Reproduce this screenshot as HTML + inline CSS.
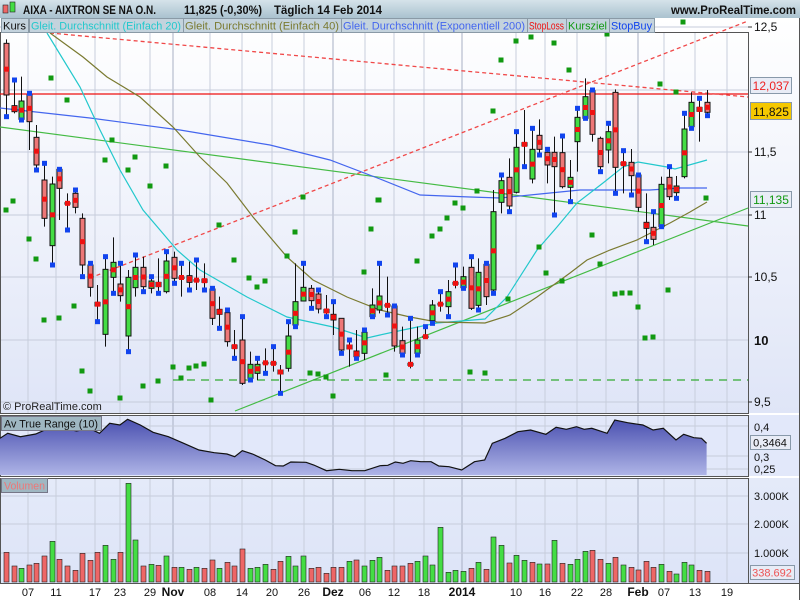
<!DOCTYPE html>
<html><head><meta charset="utf-8">
<style>
html,body{margin:0;padding:0;background:#fff;}
svg{display:block;font-family:"Liberation Sans",sans-serif;}
</style></head>
<body>
<svg id="c" width="800" height="600" xmlns="http://www.w3.org/2000/svg">
<defs>
<linearGradient id="bg" x1="0" y1="0" x2="0" y2="1"><stop offset="0" stop-color="#ffffff"/><stop offset="1" stop-color="#dfe5f7"/></linearGradient>
<linearGradient id="hd" x1="0" y1="0" x2="0" y2="1"><stop offset="0" stop-color="#d5e3ea"/><stop offset="1" stop-color="#aac2cf"/></linearGradient>
<linearGradient id="atr" x1="0" y1="0" x2="0" y2="1"><stop offset="0" stop-color="#4a50b0"/><stop offset="1" stop-color="#aeb4e6"/></linearGradient>
<linearGradient id="vb" x1="0" y1="0" x2="0" y2="1"><stop offset="0" stop-color="#e4eaf9"/><stop offset="1" stop-color="#dde4f8"/></linearGradient>
</defs>
<rect width="800" height="600" fill="#fff"/>
<rect x="0" y="0" width="800" height="18" fill="url(#hd)"/>
<rect x="0" y="18" width="800" height="395" fill="url(#bg)"/>
<rect x="0" y="415" width="800" height="61" fill="#e2e8fa"/>
<rect x="0" y="478" width="800" height="105" fill="url(#vb)"/>
<g id="grid"></g>
<g id="lines"></g>
<g id="cand"></g>
<g id="txt"></g>
</svg>
<script>
const S='http://www.w3.org/2000/svg';
function el(p,t,a,txt){const e=document.createElementNS(S,t);for(const k in a)e.setAttribute(k,a[k]);if(txt!==undefined)e.textContent=txt;document.getElementById(p).appendChild(e);return e;}
const xt=[[28,'07'],[56,'11'],[95,'17'],[120,'23'],[150,'29'],[173,'Nov',1],[210,'08'],[242,'14'],[272,'20'],[304,'26'],[333,'Dez',1],[365,'06'],[394,'12'],[424,'18'],[462,'2014',1],[516,'10'],[545,'16'],[577,'22'],[606,'28'],[638,'Feb',1],[664,'07'],[695,'13'],[727,'19']];
xt.forEach(t=>{[[32,413],[416,475],[478,582]].forEach(r=>el('grid','line',{x1:t[0],x2:t[0],y1:r[0],y2:r[1],stroke:t[2]?'#a8b0c4':'#c8cedc','stroke-width':1}));
 el('txt','text',{x:t[0],y:596,'font-size':t[2]?12:11,'font-weight':t[2]?'bold':'normal','text-anchor':'middle',fill:'#111'},t[1]);});
[27,90,152,215,277,340,402].forEach(y=>el('grid','line',{x1:0,x2:748,y1:y,y2:y,stroke:'#c6ccdb'}));
[426,456,469].forEach(y=>el('grid','line',{x1:0,x2:748,y1:y,y2:y,stroke:'#c6ccdb'}));
[496,524,553].forEach(y=>el('grid','line',{x1:0,x2:748,y1:y,y2:y,stroke:'#c6ccdb'}));
[[0,32,748,413],[0,415,748,476],[0,478,748,583]].forEach(r=>el('grid','rect',{x:r[0]+0.5,y:r[1]+0.5,width:r[2]-r[0],height:r[3]-r[1],fill:'none',stroke:'#555'}));
el('grid','line',{x1:0,x2:800,y1:583.5,y2:583.5,stroke:'#555'});
el('grid','line',{x1:799.5,x2:799.5,y1:18,y2:600,stroke:'#555'});
function pl(pts,c,w,d){el('lines','polyline',{points:pts.map(p=>p.join(',')).join(' '),fill:'none',stroke:c,'stroke-width':w||1,'stroke-dasharray':d||'none'});}
const atr=[[0,115],[15,100],[40,110],[70,102],[95,85],[120,82],[150,93],[175,85],[195,100],[215,70],[235,75],[250,58],[275,75],[300,97],[330,110],[360,130],[390,150],[420,158],[445,162],[460,170],[475,152],[495,162],[520,180],[540,197],[555,198],[570,186],[600,187],[615,195],[640,212],[665,208],[690,212],[715,212],[745,197],[760,196],[775,186],[790,190],[805,182],[825,185],[845,185],[860,198],[880,200],[905,210],[930,185],[950,180],[965,130],[990,115],[1015,95],[1040,90],[1070,103],[1090,82],[1110,88],[1130,80],[1145,88],[1160,85],[1190,100],[1205,60],[1230,68],[1260,75],[1280,90],[1300,85],[1325,120],[1340,103],[1360,113],[1375,115],[1385,130]].map(p=>[+(p[0]/1.96).toFixed(1),+(400+p[1]/3).toFixed(1)]);
el('lines','polygon',{points:atr.map(p=>p.join(',')).join(' ')+' 706.6,475 0,475',fill:'url(#atr)'});
pl(atr,'#111',1.2);
el('lines','line',{x1:0,x2:748,y1:94,y2:94,stroke:'#ee1111','stroke-width':1.3});
pl([[50,33],[748,97]],'#f04848',1.3,'4,3');
pl([[90,278],[748,21]],'#f04848',1.3,'4,3');
pl([[0,127],[748,226]],'#44bb44',1.2);
pl([[235,411],[748,208]],'#44bb44',1.2);
pl([[173,380],[748,380]],'#33aa33',1.2,'8,6');
pl([[0,108],[90,118],[180,130],[270,145],[330,160],[380,179],[420,195],[470,197],[500,198],[540,194],[580,190],[620,190],[650,190],[680,188],[707,188]],'#4466ee',1.2);
pl([[47,33],[80,87],[100,130],[120,170],[143,210],[160,230],[177,250],[200,270],[247,297],[287,317],[333,327],[367,338],[380,335],[403,330],[437,323],[485,319],[507,297],[537,250],[557,227],[577,203],[603,183],[623,167],[638,162],[667,167],[675,169],[707,160]],'#22c8cc',1.2);
pl([[50,33],[83,57],[107,77],[140,97],[173,127],[200,157],[227,183],[253,217],[287,257],[313,280],[347,297],[380,310],[410,317],[437,322],[485,323],[510,315],[537,297],[570,273],[587,260],[610,250],[637,240],[670,223],[690,212],[707,202]],'#7a7a30',1.2);
[[51,78],[67,100],[6,210],[13,201],[29,239],[36,259],[44,320],[59,318],[74,306],[82,371],[90,391],[105,160],[112,140],[128,170],[135,157],[150,186],[166,166],[173,367],[181,378],[189,368],[196,366],[204,364],[211,400],[219,225],[234,260],[249,278],[257,287],[265,281],[287,256],[295,232],[303,197],[310,373],[318,374],[326,377],[333,396],[364,272],[371,229],[378,200],[120,398],[143,386],[158,381],[379,200],[386,375],[417,261],[432,236],[440,229],[447,218],[455,203],[463,208],[470,372],[477,191],[485,373],[493,111],[501,60],[508,299],[516,41],[531,37],[539,247],[546,273],[554,43],[562,281],[569,70],[592,235],[600,264],[607,34],[615,294],[622,293],[630,293],[638,307],[645,338],[653,337],[660,84],[668,290],[676,92],[706,198],[683,22]].forEach(p=>el('cand','rect',{x:p[0]-2.5,y:p[1]-2.5,width:5,height:5,fill:'#119911'}));
const C=[[40,195,'r',28,260],[227,245,'r',150,250],[213,268,'g',140,270],[195,275,'r',190,360],[322,405,'r',285,420],[450,565,'r',400,590],[462,647,'g',440,705],[418,475,'r',418,570],[518,522,'r',490,600],[490,532,'r',480,550],[565,705,'r',550,740],[705,772,'r',700,800],[817,828,'r',765,875],[718,913,'g',680,950],[697,742,'g',622,790],[762,797,'r',700,815],[742,918,'g',720,965],[712,773,'g',675,800],[712,770,'r',680,785],[753,775,'g',740,790],[757,770,'r',685,790],[693,785,'g',665,790],[682,745,'r',665,760],[741,744,'r',700,800],[737,757,'r',695,780],[749,752,'r',690,780],[747,757,'r',700,780],[777,865,'r',775,885],[838,853,'g',800,895],[848,935,'r',840,950],[945,955,'g',900,985],[930,1060,'r',860,1065],[1003,1045,'g',965,1050],[1003,1030,'g',985,1050],[997,1000,'r',955,1030],[997,1003,'r',950,1025],[1020,1032,'r',1005,1090],[918,1015,'g',875,1025],[815,885,'g',700,890],[772,813,'g',700,813],[775,812,'r',765,835],[792,837,'r',780,850],[838,848,'r',795,860],[853,870,'r',815,915],[865,960,'r',865,970],[945,957,'r',930,1010],[963,980,'r',900,985],[907,970,'g',900,990],[825,860,'g',775,860],[798,840,'g',700,850],[824,828,'r',740,855],[828,948,'r',828,965],[932,970,'r',890,975],[1000,1006,'r',865,1015],[930,970,'g',890,975],[918,922,'r',890,920],[825,872,'g',810,880],[820,825,'r',785,845],[785,830,'g',750,860],[757,763,'r',705,775],[740,773,'g',710,775],[712,835,'r',680,840],[727,826,'g',685,840],[703,800,'r',700,825],[545,780,'g',480,790],[452,517,'g',435,550],[442,528,'r',385,545],[352,487,'g',305,490],[338,348,'r',240,410],[358,447,'g',295,460],[316,358,'r',268,375],[367,405,'r',358,460],[367,410,'r',320,555],[368,470,'r',318,475],[442,472,'g',390,515],[262,335,'g',235,425],[200,265,'g',145,265],[182,313,'r',180,335],[325,410,'r',320,425],[305,360,'g',280,400],[187,412,'r',178,490],[397,405,'r',362,490],[397,437,'r',357,495],[435,532,'r',435,545],[577,595,'r',490,635],[592,628,'r',545,645],[463,590,'g',440,590],[442,500,'r',410,510],[468,488,'g',438,505],[297,440,'g',250,445],[217,290,'g',187,295],[232,244,'g',205,335],[217,247,'r',180,257]];
const V=[['r',457],['r',498],['g',505],['r',495],['r',490],['r',468],['g',424],['r',478],['r',498],['r',511],['r',460],['r',481],['r',457],['g',436],['g',478],['r',457],['g',250],['g',420],['r',498],['g',493],['r',496],['g',468],['r',502],['g',502],['r',508],['g',502],['r',505],['r',480],['g',505],['r',487],['r',498],['r',447],['g',505],['g',502],['g',493],['r',508],['r',484],['g',469],['g',498],['g',468],['r',505],['r',502],['r',520],['r',502],['r',502],['g',484],['r',480],['g',498],['g',481],['g',472],['r',511],['r',498],['r',498],['r',490],['g',484],['g',468],['g',495],['g',382],['g',517],['g',511],['g',514],['r',505],['g',487],['r',508],['g',411],['g',436],['r',489],['g',466],['g',481],['r',487],['g',492],['r',492],['g',421],['r',490],['g',493],['g',478],['g',454],['r',451],['r',478],['g',490],['r',472],['g',495],['r',502],['r',510],['r',484],['r',502],['g',493],['r',514],['g',522],['g',487],['g',495],['r',511],['r',514]];
const Y=z=>30+z/3;
C.forEach((c,i)=>{const x=Math.round(6+i*7.616)+0.5;const t=Y(c[0]),b=Y(c[1]),h=Y(c[3]),l=Y(c[4]);
 el('cand','line',{x1:x,x2:x,y1:h,y2:l,stroke:'#111','stroke-width':1});
 el('cand','rect',{x:x-2.5,y:t,width:5,height:Math.max(b-t,1.5),fill:c[2]=='g'?'#44dd44':'#ee7777',stroke:'#111','stroke-width':1});
 el('cand','rect',{x:x-2.5,y:(i%2?h:l)-2.5,width:5,height:5,fill:'#1144ee'});
 el('cand','rect',{x:x-2.5,y:(t+b)/2-2.5,width:5,height:5,fill:'#ee1111'});
 const v=V[i]||V[V.length-1];const vt=400+v[1]/3;
 el('cand','rect',{x:x-2.5,y:vt,width:5,height:582-vt,fill:v[0]=='g'?'#44dd44':'#ee6666',stroke:'#222','stroke-width':0.6});
});
function T(x,y,s,o){const a=Object.assign({x:x,y:y,'font-size':11,fill:'#111'},o||{});el('txt','text',a,s);}
el('txt','rect',{x:3,y:5,width:5,height:8,fill:'#ee6666',stroke:'#222','stroke-width':0.6});
el('txt','rect',{x:10,y:2,width:5,height:10,fill:'#44dd44',stroke:'#222','stroke-width':0.6});
T(23,14,'AIXA - AIXTRON SE NA O.N.',{'font-weight':'bold','font-size':12,textLength:133,lengthAdjust:'spacingAndGlyphs'});
T(184,14,'11,825 (-0,30%)',{'font-weight':'bold','font-size':12,textLength:78,lengthAdjust:'spacingAndGlyphs'});
T(274,14,'Täglich  14 Feb 2014',{'font-weight':'bold','font-size':12,textLength:108,lengthAdjust:'spacingAndGlyphs'});
T(796,14,'www.ProRealTime.com',{'font-weight':'bold','font-size':12,'text-anchor':'end',textLength:125,lengthAdjust:'spacingAndGlyphs'});
[[1,28,'Kurs','#111'],[29,183,'Gleit. Durchschnitt (Einfach 20)','#22c8cc'],[183,341,'Gleit. Durchschnitt (Einfach 40)','#7a7a30'],[341,527,'Gleit. Durchschnitt (Exponentiell 200)','#4466ee'],[527,566,'StopLoss','#ee1111'],[566,609,'Kursziel','#119911'],[609,654,'StopBuy','#1144ee']].forEach(b=>{
 el('txt','rect',{x:b[0]+0.5,y:18.5,width:b[1]-b[0],height:14,fill:'#c4d3dd',stroke:'#8a9aa6'});
 T(b[0]+2,29.5,b[2],{fill:b[3],'font-size':11,textLength:b[1]-b[0]-4,lengthAdjust:'spacingAndGlyphs'});});
T(3,410,'© ProRealTime.com',{'font-size':11,fill:'#222'});
el('txt','rect',{x:1.5,y:416.5,width:100,height:14,fill:'#9fb7c2',stroke:'#778'});
T(4,427.5,'Av True Range (10)',{'font-size':11,textLength:94,lengthAdjust:'spacingAndGlyphs'});
el('txt','rect',{x:1.5,y:478.5,width:46,height:14,fill:'#9fb7c2',stroke:'#778'});
T(4,489.5,'Volumen',{'font-size':11,fill:'#ee7777',textLength:41,lengthAdjust:'spacingAndGlyphs'});
[[31,'12,5'],[156,'11,5'],[219,'11'],[281,'10,5'],[406,'9,5']].forEach(l=>{T(754,l[0],l[1],{'font-size':12});el('txt','line',{x1:748,x2:752,y1:l[0]-4,y2:l[0]-4,stroke:'#333'});});
T(754,345,'10',{'font-size':13,'font-weight':'bold'});
el('txt','rect',{x:750.5,y:77.5,width:41,height:16,fill:'#e8ecf6',stroke:'#8899aa'});T(771,90,'12,037',{'font-size':12,fill:'#ee2222','text-anchor':'middle'});
el('txt','rect',{x:750.5,y:102.5,width:41,height:17,fill:'#f5c800',stroke:'#8899aa'});T(771,116,'11,825',{'font-size':12,fill:'#111','text-anchor':'middle'});
el('txt','rect',{x:750.5,y:191.5,width:41,height:16,fill:'#e8ecf6',stroke:'#8899aa'});T(771,204,'11,135',{'font-size':12,fill:'#119911','text-anchor':'middle'});
T(754,431,'0,4');T(754,461,'0,3');T(754,473,'0,25');
el('txt','rect',{x:750.5,y:435.5,width:40,height:14,fill:'#e8ecf6',stroke:'#8899aa'});T(770,446.5,'0,3464',{'text-anchor':'middle'});
T(754,500,'3.000K');T(754,528,'2.000K');T(754,557,'1.000K');
el('txt','rect',{x:750.5,y:565.5,width:44,height:14,fill:'#e8ecf6',stroke:'#8899aa'});T(772,576.5,'338.692',{'text-anchor':'middle',fill:'#ee5555'});
</script>
</body></html>
